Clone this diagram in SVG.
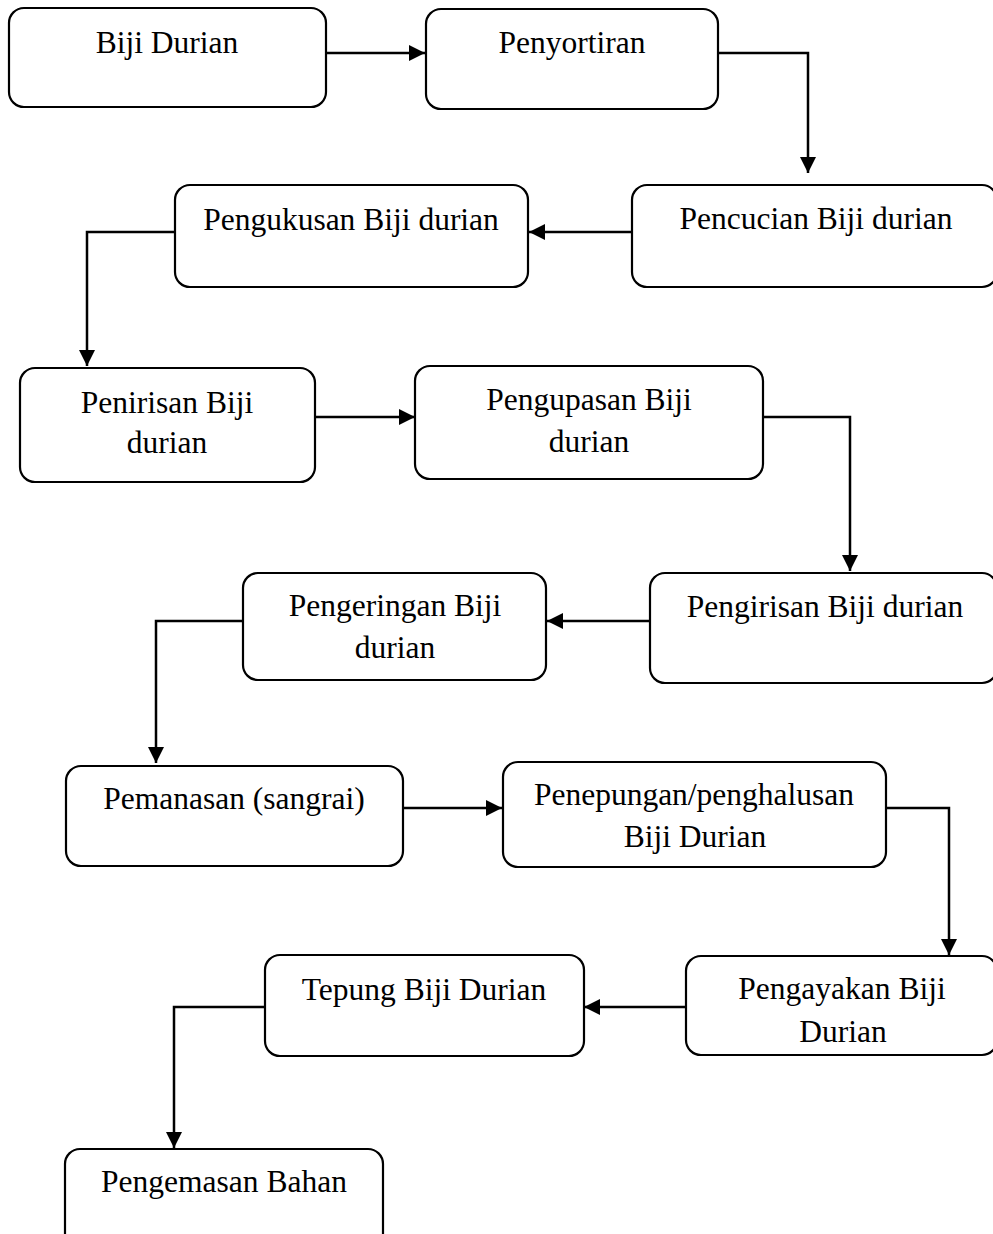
<svg xmlns="http://www.w3.org/2000/svg" width="993" height="1234" viewBox="0 0 993 1234">
<defs>
<marker id="ah" markerWidth="16" markerHeight="16" refX="16" refY="8" orient="auto" markerUnits="userSpaceOnUse"><path d="M0,0 L16,8 L0,16 z" fill="#000"/></marker>
<style>
.box{fill:#fff;stroke:#000;stroke-width:2.2}
.t{font-family:"Liberation Serif","Times New Roman",serif;font-size:31.5px;fill:#000;text-anchor:middle}
.c{fill:none;stroke:#000;stroke-width:2.5;marker-end:url(#ah)}
</style>
</defs>
<rect width="993" height="1234" fill="#fff"/>
<g id="n1"><rect class="box" x="9" y="8" width="317" height="99" rx="15"/><text class="t" x="167" y="53">Biji Durian</text></g>
<g id="n2"><rect class="box" x="426" y="9" width="292" height="100" rx="15"/><text class="t" x="572" y="53">Penyortiran</text></g>
<g id="n3"><rect class="box" x="632" y="185" width="365" height="102" rx="15"/><text class="t" x="816" y="229">Pencucian Biji durian</text></g>
<g id="n4"><rect class="box" x="175" y="185" width="353" height="102" rx="15"/><text class="t" x="351" y="230">Pengukusan Biji durian</text></g>
<g id="n5"><rect class="box" x="20" y="368" width="295" height="114" rx="15"/><text class="t" x="167" y="413">Penirisan Biji</text><text class="t" x="167" y="453">durian</text></g>
<g id="n6"><rect class="box" x="415" y="366" width="348" height="113" rx="15"/><text class="t" x="589" y="410">Pengupasan Biji</text><text class="t" x="589" y="452">durian</text></g>
<g id="n7"><rect class="box" x="650" y="573" width="347" height="110" rx="15"/><text class="t" x="825" y="617">Pengirisan Biji durian</text></g>
<g id="n8"><rect class="box" x="243" y="573" width="303" height="107" rx="15"/><text class="t" x="395" y="616">Pengeringan Biji</text><text class="t" x="395" y="658">durian</text></g>
<g id="n9"><rect class="box" x="66" y="766" width="337" height="100" rx="15"/><text class="t" x="234" y="809">Pemanasan (sangrai)</text></g>
<g id="n10"><rect class="box" x="503" y="762" width="383" height="105" rx="15"/><text class="t" x="694" y="805">Penepungan/penghalusan</text><text class="t" x="695" y="847">Biji Durian</text></g>
<g id="n11"><rect class="box" x="686" y="956" width="311" height="99" rx="15"/><text class="t" x="842" y="999">Pengayakan Biji</text><text class="t" x="843" y="1042">Durian</text></g>
<g id="n12"><rect class="box" x="265" y="955" width="319" height="101" rx="15"/><text class="t" x="424" y="1000">Tepung Biji Durian</text></g>
<g id="n13"><rect class="box" x="65" y="1149" width="318" height="110" rx="15"/><text class="t" x="224" y="1192">Pengemasan Bahan</text></g>
<g id="connectors">
<path class="c" d="M326,53 H425"/>
<path class="c" d="M718,53 H808 V173"/>
<path class="c" d="M632,232 H529"/>
<path class="c" d="M175,232 H87 V366"/>
<path class="c" d="M315,417 H415"/>
<path class="c" d="M763,417 H850 V571"/>
<path class="c" d="M650,621 H547"/>
<path class="c" d="M243,621 H156 V763"/>
<path class="c" d="M403,808 H502"/>
<path class="c" d="M886,808 H949 V955"/>
<path class="c" d="M686,1007 H584"/>
<path class="c" d="M265,1007 H174 V1148"/>
</g>
</svg>
